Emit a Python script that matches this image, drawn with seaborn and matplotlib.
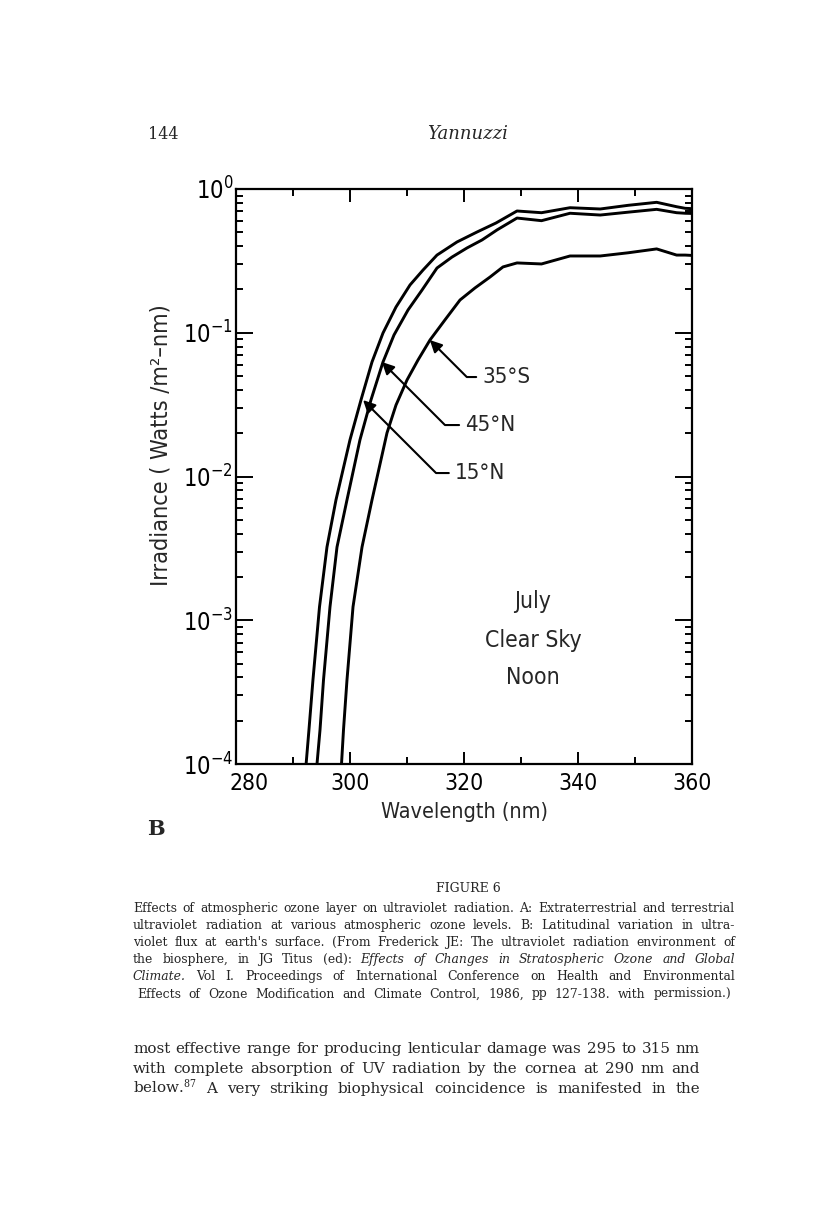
import math
import pandas as pd
import seaborn as sns
import matplotlib.pyplot as plt
from matplotlib.ticker import FixedLocator, FuncFormatter, LogLocator, NullFormatter
from matplotlib.transforms import ScaledTranslation

# values (irradiance in W/m2-nm)
wl_15n = [292.3, 292.8, 293.5, 294.65, 295.96, 297.54, 300.0, 301.93, 303.86, 305.79, 308.07,
          310.53, 312.81, 315.26, 318.77, 322.28, 325.61, 329.3, 333.6, 338.6, 343.9, 348.8,
          353.8, 357.3, 358.8, 360.0]
irr_15n = [1.0e-4, 1.73e-4, 3.84e-4, 1.24e-3, 3.23e-3, 6.87e-3, 1.8e-2, 3.41e-2, 6.26e-2, 0.0996, 0.151,
           0.215, 0.273, 0.347, 0.428, 0.502, 0.58, 0.703, 0.684, 0.741, 0.726, 0.77,
           0.808, 0.753, 0.734, 0.73]

wl_45n = [294.21, 294.74, 295.35, 296.49, 297.72, 299.47, 301.75, 303.68, 305.79, 307.72, 310.18,
          312.63, 315.26, 317.89, 320.53, 323.16, 325.79, 329.3, 333.6, 338.6, 343.9, 348.8,
          353.8, 357.3, 358.8, 360.0]
irr_45n = [1.0e-4, 1.73e-4, 3.84e-4, 1.24e-3, 3.23e-3, 6.87e-3, 1.8e-2, 3.41e-2, 6.26e-2, 0.0965, 0.144,
           0.198, 0.282, 0.336, 0.389, 0.442, 0.519, 0.628, 0.602, 0.678, 0.659, 0.69,
           0.722, 0.684, 0.678, 0.676]

wl_35s = [298.51, 298.86, 299.47, 300.53, 302.11, 303.86, 306.49, 308.07, 310.0, 311.93, 314.04,
          316.67, 319.3, 321.93, 324.56, 326.84, 329.3, 333.6, 338.6, 343.9, 348.8,
          353.8, 357.3, 358.8, 360.0]
irr_35s = [1.0e-4, 1.73e-4, 3.84e-4, 1.24e-3, 3.23e-3, 6.87e-3, 2.01e-2, 3.14e-2, 4.69e-2, 6.46e-2, 0.0891,
           0.123, 0.169, 0.205, 0.244, 0.287, 0.306, 0.301, 0.342, 0.342, 0.36,
           0.383, 0.347, 0.347, 0.345]

x_ticks = [280, 300, 320, 340, 360]
x_minor = [290, 310, 330, 350]

W, H = 816, 1229

sns.set_style('ticks')
plt.rcParams['font.family'] = ['DejaVu Sans']
plt.rcParams['font.stretch'] = 'condensed'
plt.rcParams['mathtext.fontset'] = 'dejavuserif'

fig = plt.figure(figsize=(W / 100, H / 100), dpi=100)
ax = fig.add_axes([236 / W, 1 - 764 / H, 456 / W, 575 / H])

for wl, irr in [(wl_15n, irr_15n), (wl_45n, irr_45n), (wl_35s, irr_35s)]:
    df = pd.DataFrame({'wl': wl, 'irr': irr})
    sns.lineplot(data=df, x='wl', y='irr', color='black', lw=2.1, ax=ax)

ax.set_yscale('log')
ax.set_xlim(280, 360)
ax.set_ylim(1e-4, 1)

ax.xaxis.set_major_locator(FixedLocator(x_ticks))
ax.xaxis.set_minor_locator(FixedLocator(x_minor))
ax.yaxis.set_major_locator(LogLocator(base=10, numticks=10))
ax.yaxis.set_minor_locator(LogLocator(base=10, subs=range(2, 10), numticks=20))
ax.yaxis.set_minor_formatter(NullFormatter())
ax.yaxis.set_major_formatter(FuncFormatter(lambda v, p: r'$\mathregular{10^{%d}}$' % round(math.log10(v))))

ax.tick_params(which='both', direction='in', top=True, right=True, width=1.4, colors='black')
ax.tick_params(axis='y', which='major', length=12, labelsize=17, pad=2)
ax.tick_params(axis='y', which='minor', length=5)
ax.tick_params(axis='x', which='major', length=9, labelsize=16.5, pad=6)
ax.tick_params(axis='x', which='minor', length=5)
for s in ax.spines.values():
    s.set_linewidth(1.6)
    s.set_color('black')

# nudge the 280 label to the right, clear of 10^-4
lbl = ax.get_xticklabels()[0]
lbl.set_transform(lbl.get_transform() + ScaledTranslation(0.13, 0, fig.dpi_scale_trans))

ax.set_xlabel('Wavelength (nm)', fontsize=15.5)
ax.xaxis.set_label_coords(0.5, -0.066)
ax.set_ylabel('Irradiance ( Watts /m²–nm)', fontsize=16.8)
ax.yaxis.set_label_coords(-0.14, 0.555)

arrow = dict(arrowstyle='-|>', connectionstyle='angle,angleA=0,angleB=-45,rad=0',
             relpos=(0, 0.5), shrinkA=2, shrinkB=0, color='black', lw=1.5, mutation_scale=18)
ax.annotate('35°S', xy=(314.0, 0.089), xytext=(323.2, 0.0492), fontsize=16,
            va='center', ha='left', arrowprops=arrow)
ax.annotate('45°N', xy=(305.6, 0.0626), xytext=(320.2, 0.0228), fontsize=16,
            va='center', ha='left', arrowprops=arrow)
ax.annotate('15°N', xy=(302.3, 0.034), xytext=(318.4, 0.01057), fontsize=16,
            va='center', ha='left', arrowprops=arrow)

for txt, yy in [('July', 0.283), ('Clear Sky', 0.214), ('Noon', 0.151)]:
    ax.text(0.651, yy, txt, transform=ax.transAxes, ha='center', va='center', fontsize=16.5)

# page text around the chart (normal width serif)
serif = dict(family='DejaVu Serif', fontstretch='normal')
fig.text(148 / W, 1 - 139 / H, '144', fontsize=11.5, va='baseline', **serif)
fig.text(468 / W, 1 - 139 / H, 'Yannuzzi', style='italic', fontsize=13,
         ha='center', va='baseline', **serif)
fig.text(147 / W, 1 - 835 / H, 'B', weight='bold', fontsize=15, va='baseline', **serif)
fig.text(468 / W, 1 - 892 / H, 'FIGURE 6', fontsize=9, ha='center', va='baseline', **serif)

caption = [
    'Effects of atmospheric ozone layer on ultraviolet radiation. A: Extraterrestrial and terrestrial',
    'ultraviolet radiation at various atmospheric ozone levels. B: Latitudinal variation in ultra-',
    "violet flux at earth's surface. (From Frederick JE: The ultraviolet radiation environment of",
    'the biosphere, in JG Titus (ed): _Effects _of _Changes _in _Stratospheric _Ozone _and _Global',
    '_Climate. Vol I. Proceedings of International Conference on Health and Environmental',
    'Effects of Ozone Modification and Climate Control, 1986, pp 127-138. with permission.)',
]
body = [
    'most effective range for producing lenticular damage was 295 to 315 nm',
    'with complete absorption of UV radiation by the cornea at 290 nm and',
    r'below.$^{87}$ A very striking biophysical coincidence is manifested in the',
]

renderer = fig.canvas.get_renderer()


def justify(line, x0, x1, y, size):
    words = line.split(' ')
    texts = []
    for w in words:
        st = 'normal'
        if w.startswith('_'):
            w, st = w[1:], 'italic'
        texts.append(fig.text(0, 0, w, style=st, fontsize=size, va='baseline', **serif))
    widths = [t.get_window_extent(renderer).width for t in texts]
    gap = (x1 - x0 - sum(widths)) / (len(texts) - 1)
    x = x0
    for t, w in zip(texts, widths):
        t.set_position((x / W, 1 - y / H))
        x += w + gap


for i, line in enumerate(caption):
    x0 = 137 if i == len(caption) - 1 else 133
    x1 = 731 if i == len(caption) - 1 else 735
    justify(line, x0, x1, 912 + i * 17.1, 8.9)

for i, line in enumerate(body):
    justify(line, 133, 700, 1053 + i * 20, 10.9)

fig.savefig('out.png', dpi=100, facecolor='white')
